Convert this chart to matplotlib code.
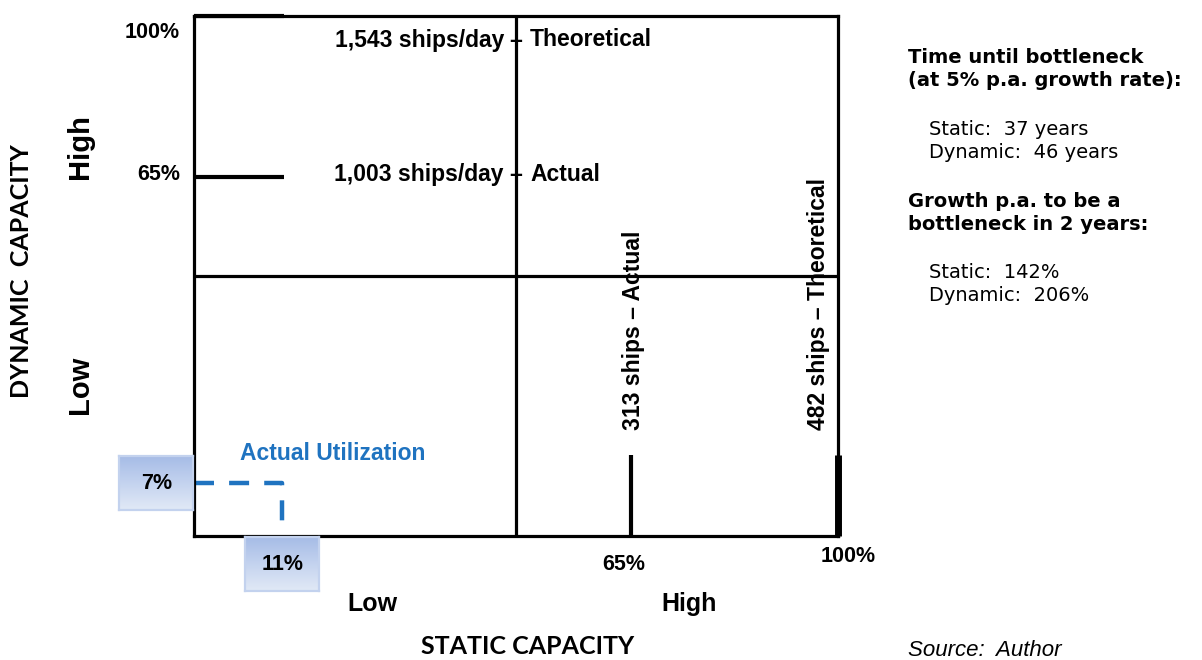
import numpy as np
import matplotlib
matplotlib.use("Agg")
import matplotlib.pyplot as plt
from matplotlib.colors import LinearSegmentedColormap
from matplotlib.transforms import blended_transform_factory

# ---------------- data ----------------
x_levels = ["Low", "High"]
y_levels = ["Low", "High"]
static_pct = [65, 100]
static_labels = ["313 ships \u2013 Actual", "482 ships \u2013 Theoretical"]
dynamic_pct = [100, 65]
dynamic_ships = ["1,543 ships/day", "1,003 ships/day"]
dynamic_kind = ["Theoretical", "Actual"]
util_static = 11
util_dynamic = 7
util_label = "Actual Utilization"
side_heads = ["Time until bottleneck\n(at 5% p.a. growth rate):",
              "Growth p.a. to be a\nbottleneck in 2 years:"]
side_static = ["37 years", "142%"]
side_dynamic = ["46 years", "206%"]
x_title = "STATIC CAPACITY"
y_title = "DYNAMIC  CAPACITY"
source = "Source:  Author"

# ---------------- style ----------------
W, H = 1202, 660
BLUE = "#1f73c0"
HELV = "Liberation Sans"
K = 0.72  # px -> pt

def fx(p):
    return p / W

def fy(p):
    return 1 - p / H

fig = plt.figure(figsize=(W / 100, H / 100), dpi=100)
ax = fig.add_axes([fx(194), fy(536), (838 - 194) / W, (536 - 16) / H])
PX, PY = 0.9, 0.86
ax.set_xscale("function", functions=(lambda v: np.abs(v) ** PX, lambda v: np.abs(v) ** (1 / PX)))
ax.set_yscale("function", functions=(lambda v: np.abs(v) ** PY, lambda v: np.abs(v) ** (1 / PY)))
ax.set_xlim(0, 100)
ax.set_ylim(0, 100)
ax.set_xticks([])
ax.set_yticks([])
ax.tick_params(which="both", length=0, labelbottom=False, labelleft=False)
for s in ax.spines.values():
    s.set_linewidth(2.3)

# quadrant dividers
ax.plot([0.5, 0.5], [0, 1], transform=ax.transAxes, color="k", lw=2.3, solid_capstyle="butt")
ax.plot([0, 1], [0.5, 0.5], transform=ax.transAxes, color="k", lw=2.3, solid_capstyle="butt")

tr_xa_yd = blended_transform_factory(ax.transAxes, ax.transData)
tr_xd_ya = blended_transform_factory(ax.transData, ax.transAxes)
STUB_X = 0.14
STUB_Y = 0.155

def lab(s, xy, coords, off, **kw):
    kw.setdefault("fontfamily", HELV)
    kw.setdefault("fontweight", "bold")
    ax.annotate(s, xy=xy, xycoords=coords, xytext=(off[0] * K, -off[1] * K),
                textcoords="offset points", annotation_clip=False, **kw)

# dynamic capacity marks (horizontal stubs)
dyn_dy_pct = [17, -2]
dyn_dy_txt = [24, -2]
for i, v in enumerate(dynamic_pct):
    ax.plot([0, STUB_X], [v, v], transform=tr_xa_yd, color="k", lw=3,
            solid_capstyle="butt", clip_on=False)
    lab(f"{v}%", (0, v), tr_xa_yd, (-14, dyn_dy_pct[i]), ha="right", va="center", fontsize=15.5)
    lab(dynamic_ships[i], (0.5, v), tr_xa_yd, (-12, dyn_dy_txt[i]), ha="right", va="center", fontsize=16.5)
    lab("\u2013", (0.5, v), tr_xa_yd, (0, dyn_dy_txt[i]), ha="center", va="center", fontsize=16.5)
    lab(dynamic_kind[i], (0.5, v), tr_xa_yd, (14, dyn_dy_txt[i]), ha="left", va="center", fontsize=16.5)

# static capacity marks (vertical stubs)
stub_lw = [3, 5]
st_dx_txt = [2, -19]
st_pct_off = [(-7, 29), (10, 21)]
for i, v in enumerate(static_pct):
    ax.plot([v, v], [0, STUB_Y], transform=tr_xd_ya, color="k", lw=stub_lw[i],
            solid_capstyle="butt", clip_on=False)
    lab(static_labels[i], (v, STUB_Y), tr_xd_ya, (st_dx_txt[i], -25), ha="center", va="bottom",
        rotation=90, fontsize=16.5)
    lab(f"{v}%", (v, 0), tr_xd_ya, st_pct_off[i], ha="center", va="center", fontsize=15.5)

# actual utilization
ax.plot([0, util_static, util_static], [util_dynamic, util_dynamic, 0], color=BLUE, lw=3.2,
        linestyle=(0, (4.5, 3.4)), clip_on=False)
lab(util_label, (0, util_dynamic), tr_xa_yd, (46, -30), ha="left", va="center", fontsize=16.5,
    color=BLUE)

cmap = LinearSegmentedColormap.from_list("box", ["#a6bce6", "#c4d3ef", "#e1e9f6"])
grad = np.linspace(0, 1, 64).reshape(-1, 1)
tf = ax.transScale + ax.transLimits

def box(txt, cx, cy, w, h):
    bx = ax.inset_axes([cx - w / 2, cy - h / 2, w, h])
    bx.imshow(grad, cmap=cmap, aspect="auto", extent=[0, 1, 0, 1], origin="upper")
    bx.set_xticks([])
    bx.set_yticks([])
    for s in bx.spines.values():
        s.set_color("#c3d2ee")
        s.set_linewidth(1.6)
    bx.text(0.5, 0.5, txt, ha="center", va="center", fontsize=15.5, fontweight="bold",
            fontfamily=HELV, transform=bx.transAxes)

bw, bh = 74 / 644, 54 / 520
ydy = tf.transform((0, util_dynamic))[1]
xst = tf.transform((util_static, 0))[0]
box(f"{util_dynamic}%", -bw / 2 - 0.001, ydy, bw, bh)
box(f"{util_static}%", xst, -bh / 2 - 0.002, bw, bh)

# quadrant level labels
fig.text(fx(372), fy(604), x_levels[0], ha="center", va="center", fontsize=18,
         fontweight="bold", fontfamily=HELV)
fig.text(fx(689), fy(604), x_levels[1], ha="center", va="center", fontsize=18,
         fontweight="bold", fontfamily=HELV)
fig.text(fx(80), fy(385), y_levels[0], ha="center", va="center", fontsize=21, rotation=90,
         fontweight="bold", fontfamily=HELV)
fig.text(fx(80), fy(147), y_levels[1], ha="center", va="center", fontsize=21, rotation=90,
         fontweight="bold", fontfamily=HELV)

# axis titles
fig.text(fx(528), fy(647), x_title, ha="center", va="center", fontsize=18,
         fontweight="bold", fontfamily="Lato")
fig.text(fx(22), fy(271), y_title, ha="center", va="center", fontsize=18, rotation=90,
         fontweight="bold", fontfamily="Lato")

# side notes
SIDE = "DejaVu Sans"
fig.text(fx(908), fy(69), side_heads[0], ha="left", va="center", fontsize=14,
         fontweight="bold", fontfamily=SIDE, linespacing=1.3)
fig.text(fx(929), fy(141), f"Static:  {side_static[0]}\nDynamic:  {side_dynamic[0]}",
         ha="left", va="center", fontsize=14, fontfamily=SIDE, linespacing=1.3)
fig.text(fx(908), fy(213), side_heads[1], ha="left", va="center", fontsize=14,
         fontweight="bold", fontfamily=SIDE, linespacing=1.3)
fig.text(fx(929), fy(284), f"Static:  {side_static[1]}\nDynamic:  {side_dynamic[1]}",
         ha="left", va="center", fontsize=14, fontfamily=SIDE, linespacing=1.3)
fig.text(fx(908), fy(650), source, ha="left", va="center", fontsize=16,
         fontstyle="italic", fontfamily=HELV)

fig.savefig("out.png", dpi=100)
